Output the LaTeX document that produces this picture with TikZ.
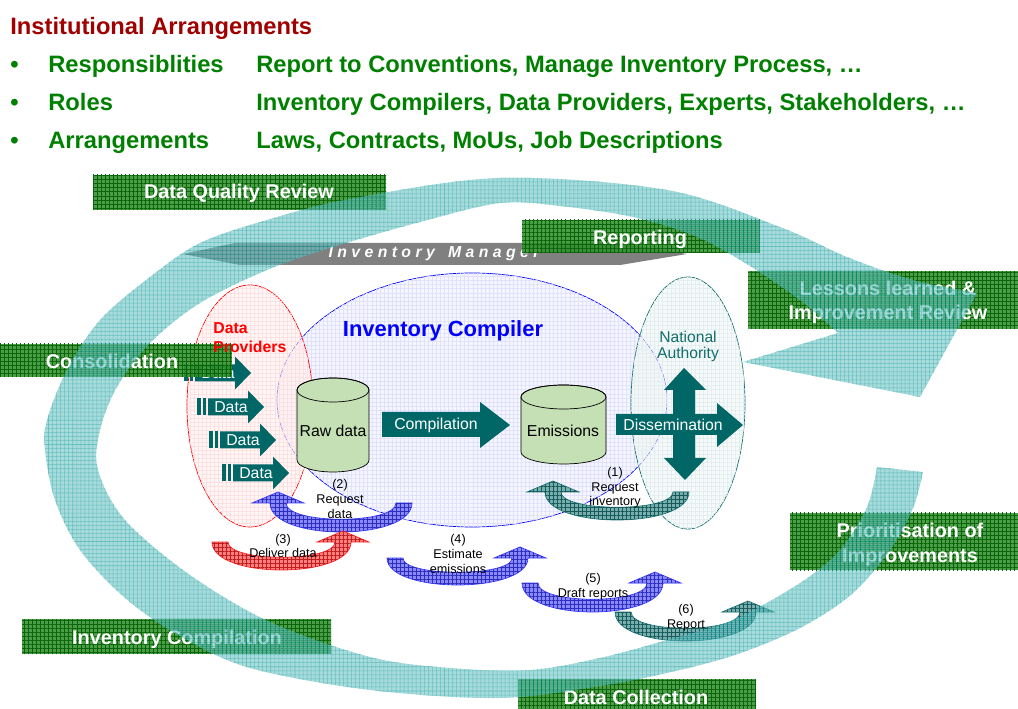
\documentclass[tikz,border=0pt]{standalone}
\usepackage{fontspec}
\setmainfont{Liberation Sans}
\usetikzlibrary{patterns.meta}

\definecolor{titlered}{RGB}{160,0,0}
\definecolor{listgreen}{RGB}{0,128,0}
\definecolor{boxgreen}{RGB}{50,145,45}
\definecolor{boxgrid}{RGB}{10,100,10}
\definecolor{ringteal}{RGB}{110,195,195}
\definecolor{ringgrid}{RGB}{0,150,150}
\definecolor{darkteal}{RGB}{0,102,102}
\definecolor{natteal}{RGB}{20,110,110}
\definecolor{drumgreen}{RGB}{197,224,180}
\definecolor{mgrgray}{RGB}{128,128,128}
\definecolor{upblue}{RGB}{60,60,255}
\definecolor{upred}{RGB}{255,40,40}
\definecolor{upteal}{RGB}{30,120,120}

% curved step arrow: tail x, head x, top y, depth, side (1 / -1), colour
\newcommand{\uarr}[6]{%
  \filldraw[uturn=#6] ({#1},{#3})
    .. controls ({#1},{#3+#4/0.75}) and ({#2+(#5)*8},{#3+#4/0.75}) .. ({#2+(#5)*8},{#3})
    -- ({#2+(#5)*26},{#3}) -- ({#2},{#3-11}) -- ({#2-(#5)*26},{#3}) -- ({#2-(#5)*8},{#3})
    .. controls ({#2-(#5)*8},{#3+#4/0.75-17}) and ({#1+(#5)*16},{#3+#4/0.75-17}) .. ({#1+(#5)*16},{#3})
    -- cycle;}

% data arrow with two bars: name, left x, centre y
\newcommand{\dataarrow}[3]{%
  \fill[darkteal] ({#2},{#3-8.5}) rectangle ({#2+4},{#3+8.5});
  \fill[darkteal] ({#2+6},{#3-8.5}) rectangle ({#2+9},{#3+8.5});
  \fill[darkteal] ({#2+11},{#3-8.5}) -- ({#2+51},{#3-8.5}) -- ({#2+51},{#3-16.5})
    -- ({#2+67},{#3}) -- ({#2+51},{#3+16.5}) -- ({#2+51},{#3+8.5}) -- ({#2+11},{#3+8.5}) -- cycle;
  \node[arrowtext] (#1) at ({#2+34},{#3}) {Data};}

% database drum: centre x, half width, top y, bottom y
\newcommand{\drum}[4]{%
  \filldraw[drum] ({#1-#2},{#3}) -- ({#1-#2},{#4})
    arc[start angle=180, end angle=0, x radius=#2, y radius=12] -- ({#1+#2},{#3})
    arc[start angle=0, end angle=-180, x radius=#2, y radius=12] -- cycle;
  \draw ({#1},{#3}) ellipse [x radius=#2, y radius=12];}

\begin{document}
\begin{tikzpicture}[x=0.02cm, y=-0.02cm,
  every node/.style={inner sep=0pt},
  fine grid/.style={pattern={Hatch[angle=0, distance=2.3pt, line width=0.3pt]}, pattern color=#1},
  headline/.style={anchor=base west, text=titlered, font=\fontsize{13.5}{16}\selectfont\bfseries},
  listtext/.style={anchor=base west, text=listgreen, font=\fontsize{13.5}{16}\selectfont\bfseries},
  zone/.style={draw=#1, fill=#1!6, fill opacity=0.6, postaction={fine grid=#1!12}},
  drum/.style={draw=black, fill=drumgreen},
  plain/.style={font=\fontsize{9}{11}\selectfont},
  arrowtext/.style={text=white, font=\fontsize{9}{11}\selectfont},
  uturn/.style={draw=#1, fill=#1!60, postaction={fine grid=#1!75!black}},
  steplabel/.style={font=\fontsize{7.2}{8.3}\selectfont, align=center},
  greenbox/.style={fill=boxgreen, fill opacity=0.88, postaction={fine grid=boxgrid}},
  boxtext/.style={anchor=base, text=white, font=\fontsize{11.3}{13}\selectfont\bfseries},
  ring/.style={fill=ringteal, postaction={fine grid=ringgrid}}
]
\useasboundingbox (0,0) rectangle (1018,709);

% heading and list
\node[headline] (title) at (10,35) {Institutional Arrangements};
\node[listtext] (dot1) at (10,73) {•};
\node[listtext] (resp) at (48,73) {Responsiblities};
\node[listtext] (respv) at (256,73) {Report to Conventions, Manage Inventory Process, …};
\node[listtext] (dot2) at (10,111) {•};
\node[listtext] (roles) at (48,111) {Roles};
\node[listtext] (rolesv) at (256,111) {Inventory Compilers, Data Providers, Experts, Stakeholders, …};
\node[listtext] (dot3) at (10,149) {•};
\node[listtext] (arr) at (48,149) {Arrangements};
\node[listtext] (arrv) at (256,149) {Laws, Contracts, MoUs, Job Descriptions};

% inventory manager
\fill[mgrgray] (183,254) -- (235,243) -- (620,243) -- (687,254) -- (620,265) -- (240,265) -- cycle;
\node[text=white, font=\fontsize{9}{11}\selectfont\bfseries\itshape] (mgr) at (434,254)
  {I n v e n t o r y \ \ M a n a g e r};

% actors
\draw[zone=blue] (472,400) ellipse [x radius=195, y radius=127];
\draw[zone=red] (250,406) ellipse [x radius=63, y radius=121];
\draw[zone=natteal] (688,403) ellipse [x radius=57, y radius=126];
\node[text=blue, font=\fontsize{12.5}{15}\selectfont\bfseries, anchor=base] (compiler) at (443,337) {Inventory Compiler};
\node[text=natteal, font=\fontsize{8.9}{9.1}\selectfont, align=center] (natauth) at (688,346) {National\\Authority};

% data flow
\dataarrow{data1}{184}{373}
\dataarrow{data2}{197}{407}
\dataarrow{data3}{209}{440}
\dataarrow{data4}{222}{473}

\drum{333}{36}{390}{460}
\node[plain] (raw) at (333,431) {Raw data};
\drum{563.5}{42.5}{397}{452}
\node[plain] (emis) at (563,431) {Emissions};

\fill[darkteal] (382,412) -- (480,412) -- (480,402) -- (510,425) -- (480,448) -- (480,437) -- (382,437) -- cycle;
\node[arrowtext] (compile) at (436,425) {Compilation};
\fill[darkteal] (616,414) -- (717,414) -- (717,403) -- (743,425) -- (717,447) -- (717,435) -- (616,435) -- cycle;
\fill[darkteal] (673,390) -- (664,390) -- (684,368) -- (706,390) -- (695,390) -- (695,458)
  -- (706,458) -- (685,480) -- (664,458) -- (673,458) -- cycle;
\node[arrowtext] (dissem) at (673,425) {Dissemination};

% steps
\uarr{689}{553}{492}{28}{-1}{upteal}
\node[steplabel] (step1) at (615,488) {(1)\\Request\\inventory};
\uarr{412}{278}{503}{29}{-1}{upblue}
\node[steplabel] (step2) at (340,499) {(2)\\Request\\data};
\uarr{212}{343}{542}{28}{1}{upred}
\node[steplabel] (step3) at (283,546) {(3)\\Deliver data};
\uarr{387}{520}{558}{27}{1}{upblue}
\node[steplabel] (step4) at (458,554) {(4)\\Estimate\\emissions};
\uarr{522}{655}{583}{29}{1}{upblue}
\node[steplabel] (step5) at (593,587) {(5)\\Draft reports};
\uarr{615}{748}{612}{29}{1}{upteal}
\node[steplabel] (step6) at (686,618) {(6)\\Report};

% cycle phases
\fill[greenbox] (93,175) rectangle (386,210);
\node[boxtext] (dqr) at (239,199) {Data Quality Review};
\fill[greenbox] (522,220) rectangle (760,253);
\node[boxtext] (report) at (640,245) {Reporting};
\fill[greenbox] (748,271) rectangle (1018,329);
\node[boxtext] (lessons) at (888,296) {Lessons learned \&};
\node[boxtext] (review) at (888,320) {Improvement Review};
\fill[greenbox] (0,344) rectangle (232,377);
\node[boxtext] (consol) at (112,369) {Consolidation};
\fill[greenbox] (790,513) rectangle (1018,570);
\node[boxtext] (prio) at (910,538) {Prioritisation of};
\node[boxtext] (improve) at (910,562) {Improvements};
\fill[greenbox] (22,619) rectangle (331,654);
\node[boxtext] (invcomp) at (177,644) {Inventory Compilation};
\fill[greenbox] (518,679) rectangle (756,709);
\node[boxtext] (collect) at (636,704) {Data Collection};

% the cycle
\begin{scope}[transparency group, opacity=0.6]
\fill[ring] plot[smooth, tension=0.55] coordinates {(923,472) (913,508) (890,550) (852,594)
    (800,628) (735,655) (667,673) (600,686) (500,698) (370,690) (250,668) (180,636)
    (125,598) (80,550) (55,500) (45,450) (47,420) (67,370) (100,320) (150,277) (200,243)
    (267,220) (350,199) (500,178) (667,190) (780,227) (847,257) (913,280) (977,293)}
  -- (920,397) -- (743,362) -- (838,333)
  -- plot[smooth, tension=0.55] coordinates {(838,333) (800,300) (745,263) (695,236)
    (633,217) (560,206) (500,203) (420,222) (333,247) (267,270) (200,303) (150,343) (117,387) (100,430)
    (98,470) (125,520) (190,575) (270,622) (370,657) (450,668) (530,670) (600,658)
    (667,640) (733,620) (800,583) (840,550) (867,507) (877,467)}
  -- cycle;
\end{scope}

\node[text=red, font=\fontsize{9}{10.8}\selectfont\bfseries, align=left, anchor=west] (providers) at (213,338) {Data\\Providers};
\end{tikzpicture}
\end{document}
